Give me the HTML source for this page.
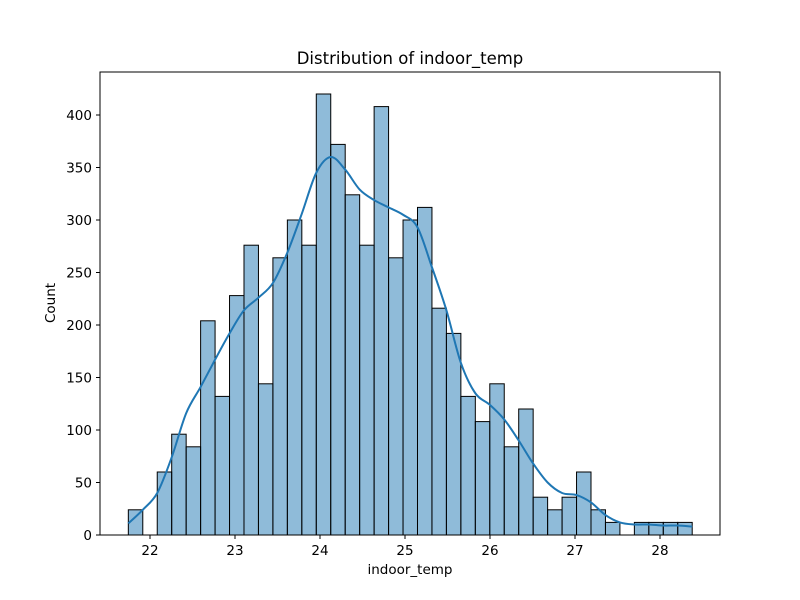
<!DOCTYPE html>
<html><head><meta charset="utf-8"><style>
body{margin:0;background:#fff}
svg{display:block;font-family:"DejaVu Sans","Liberation Sans",sans-serif}
</style></head><body>
<svg id="chart" width="800" height="600" viewBox="0 0 800 600" xmlns="http://www.w3.org/2000/svg">
<rect width="800" height="600" fill="#fff"/>
<text x="410" y="64" text-anchor="middle" font-size="16.5">Distribution of indoor_temp</text>
<g id="bars"></g>
<path id="kde" fill="none" stroke="#1f77b4" stroke-width="2"/>
<rect x="100" y="72" width="620" height="463" fill="none" stroke="#000" stroke-width="1"/>
<g id="xticks"></g>
<g id="yticks"></g>
<text x="410" y="574" text-anchor="middle" font-size="13.5">indoor_temp</text>
<text x="55" y="303" text-anchor="middle" font-size="13.5" transform="rotate(-90 55 303)">Count</text>
</svg>
<script>
const counts=[24,0,60,96,84,204,132,228,276,144,264,300,276,420,372,324,276,408,264,300,312,216,192,132,108,144,84,120,36,24,36,60,24,12,0,12,12,12,12];
const kdeVals=[11,24,40,74,116,141,167,192,214,226,240,269,306,345,360,348,329,319,312,305,293,255,214,164,135,124,110,90,68,50,40,38,31,19,12,10,10,9,9,8];
const xTicks=[22,23,24,25,26,27,28];
const yTicks=[0,50,100,150,200,250,300,350,400];
const binStart=21.745, binWidth=0.1701;
const X=v=>150+(v-22)*85;
const Y=v=>535-v*1.05;
const NS="http://www.w3.org/2000/svg";
const bars=document.getElementById('bars');
counts.forEach((c,i)=>{
  if(c<=0)return;
  const r=document.createElementNS(NS,'rect');
  const x0=X(binStart+i*binWidth), x1=X(binStart+(i+1)*binWidth);
  r.setAttribute('x',x0);r.setAttribute('y',Y(c));
  r.setAttribute('width',x1-x0);r.setAttribute('height',Y(0)-Y(c));
  r.setAttribute('fill','rgba(31,119,180,0.5)');r.setAttribute('stroke','#000');r.setAttribute('stroke-width','1');
  
  
  bars.appendChild(r);
});
const pts=kdeVals.map((v,i)=>[X(binStart+i*binWidth),Y(v)]);
let d='M'+pts[0][0]+','+pts[0][1];
for(let i=0;i<pts.length-1;i++){
  const p0=pts[Math.max(0,i-1)],p1=pts[i],p2=pts[i+1],p3=pts[Math.min(pts.length-1,i+2)];
  const c1=[p1[0]+(p2[0]-p0[0])/6,p1[1]+(p2[1]-p0[1])/6];
  const c2=[p2[0]-(p3[0]-p1[0])/6,p2[1]-(p3[1]-p1[1])/6];
  d+=' C'+c1+' '+c2+' '+p2;
}
document.getElementById('kde').setAttribute('d',d);
const xg=document.getElementById('xticks');
xTicks.forEach(t=>{
  const l=document.createElementNS(NS,'line');
  l.setAttribute('x1',X(t));l.setAttribute('x2',X(t));l.setAttribute('y1',535);l.setAttribute('y2',539);l.setAttribute('stroke','#000');
  
  
  xg.appendChild(l);
  const s=document.createElementNS(NS,'text');
  s.setAttribute('x',X(t));s.setAttribute('y',555);s.setAttribute('text-anchor','middle');s.setAttribute('font-size','13.5');
  s.textContent=t;
  
  
  xg.appendChild(s);
});
const yg=document.getElementById('yticks');
yTicks.forEach(t=>{
  const l=document.createElementNS(NS,'line');
  l.setAttribute('x1',96);l.setAttribute('x2',100);l.setAttribute('y1',Y(t));l.setAttribute('y2',Y(t));l.setAttribute('stroke','#000');
  
  
  yg.appendChild(l);
  const s=document.createElementNS(NS,'text');
  s.setAttribute('x',92);s.setAttribute('y',Y(t)+5);s.setAttribute('text-anchor','end');s.setAttribute('font-size','13.5');
  s.textContent=t;
  
  
  yg.appendChild(s);
});
</script>
</body></html>
